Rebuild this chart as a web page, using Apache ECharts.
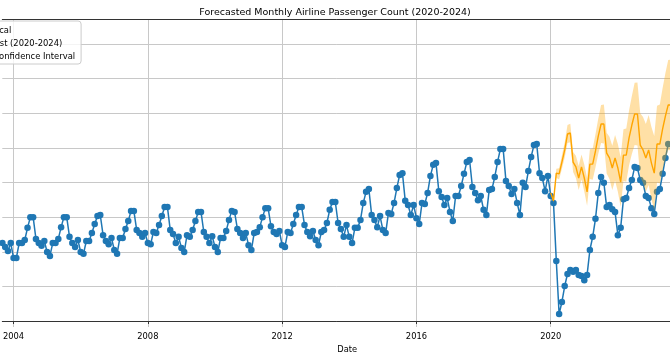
<!DOCTYPE html>
<html><head><meta charset="utf-8">
<script src="https://cdn.jsdelivr.net/npm/echarts@6/dist/echarts.min.js"></script>
<style>html,body{margin:0;padding:0;background:#fff}#c{width:670px;height:360px}</style>
</head><body><div id="c"></div>
<script>
// ---- data ----
const histStart = [2003, 9];            // first historical month (year, month)
const historical = [
  22.5, 21.4, 20.2, 22.5,
  18.2, 18.2, 22.5, 22.5, 23.4, 26.9, 30.0, 30.0, 23.7, 22.5, 21.7, 23.1,
  19.9, 18.8, 22.5, 22.5, 23.7, 27.1, 30.0, 30.0, 24.3, 22.5, 21.4, 23.4,
  19.9, 19.4, 23.1, 23.1, 25.4, 28.0, 30.3, 30.6, 24.8, 23.1, 22.2, 24.0,
  20.5, 19.4, 24.0, 24.0, 26.6, 28.9, 31.8, 31.8, 26.3, 25.4, 24.3, 25.4,
  22.5, 22.2, 25.7, 25.4, 27.7, 30.3, 32.9, 32.9, 26.3, 25.1, 22.5, 24.3,
  21.1, 19.9, 24.8, 24.3, 26.3, 28.9, 31.5, 31.5, 25.7, 24.3, 22.5, 24.5,
  21.4, 19.9, 24.0, 24.0, 26.0, 29.2, 31.8, 31.5, 26.6, 25.4, 24.0, 25.4,
  21.9, 20.5, 25.4, 25.7, 27.1, 30.0, 32.6, 32.6, 27.4, 25.7, 25.1, 26.0,
  21.9, 21.4, 25.7, 25.4, 28.0, 30.6, 32.9, 32.9, 27.7, 25.7, 24.5, 26.0,
  23.4, 21.9, 25.7, 26.3, 28.3, 32.1, 34.4, 34.4, 28.3, 26.6, 24.3, 27.7,
  24.3, 22.5, 26.9, 26.9, 29.2, 34.1, 37.3, 38.1, 30.6, 29.2, 27.1, 30.3,
  26.3, 25.4, 31.2, 30.9, 34.1, 38.4, 42.2, 42.7, 34.7, 33.5, 30.6, 33.5,
  29.7, 28.0, 34.1, 33.8, 37.0, 41.9, 45.1, 45.6, 37.5, 35.8, 33.5, 35.5,
  31.5, 28.9, 36.1, 36.1, 39.0, 42.5, 45.9, 46.5, 38.7, 37.0, 34.9, 36.1,
  32.1, 30.6, 37.8, 38.1, 41.6, 45.9, 49.7, 49.7, 40.4, 39.0, 36.7, 38.1,
  34.1, 30.6, 39.9, 38.7, 43.3, 47.4, 50.8, 51.1, 42.7, 41.3, 37.5, 41.9,
  36.1, 34.1, 17.3, 2.0, 5.5, 10.1, 13.6, 14.7, 14.2, 14.7, 13.3, 13.0,
  11.8, 13.3, 20.5, 24.3, 29.5, 37.0, 41.6, 39.9, 32.9, 33.5, 32.3, 31.5,
  24.8, 26.9, 35.2, 35.5, 38.4, 40.7, 44.5, 44.2, 40.7, 39.9, 36.1, 35.5,
  32.6, 30.9, 37.3, 38.1, 42.5, 47.1, 51.1, 51.4
];
const forecastStart = [2020, 1];
const forecast = [
  37.0, 34.7, 42.7, 42.5, 45.9, 49.4, 54.0, 54.3, 45.9, 44.5, 41.3, 44.5,
  41.3, 37.3, 45.3, 45.3, 49.1, 53.4, 56.9, 56.9, 48.5, 47.1, 44.2, 47.1,
  44.2, 40.1, 47.9, 47.9, 52.9, 56.6, 59.8, 59.8, 50.8, 49.4, 47.1, 49.4,
  45.6, 42.7, 51.1, 51.1, 55.5, 59.2, 62.4, 62.4
];
const ciLower = [
  36.7, 34.0, 41.4, 40.9, 44.0, 47.2, 51.4, 51.6, 43.0, 41.3, 37.8, 40.9,
  37.4, 33.3, 41.0, 40.8, 44.3, 48.3, 51.4, 51.3, 42.6, 41.0, 37.8, 40.5,
  37.3, 32.9, 40.4, 40.2, 45.0, 48.2, 50.8, 50.7, 41.6, 39.9, 37.3, 39.3,
  35.2, 32.0, 40.0, 39.7, 43.7, 46.8, 49.4, 49.3
];
const ciUpper = [
  37.3, 35.4, 44.0, 44.1, 47.8, 51.6, 56.6, 57.0, 48.8, 47.7, 44.8, 48.1,
  45.2, 41.3, 49.6, 49.8, 53.9, 58.5, 62.4, 62.5, 54.4, 53.2, 50.6, 53.7,
  51.1, 47.3, 55.4, 55.6, 60.8, 65.0, 68.8, 68.9, 60.0, 58.9, 56.9, 59.5,
  56.0, 53.4, 62.2, 62.5, 67.3, 71.6, 75.4, 75.5
];
const xTicks = [2004, 2008, 2012, 2016, 2020];
const yGrid = [0, 10, 20, 30, 40, 50, 60, 70, 80];
const xRange = [2003.665, 2023.553];
const yRange = [-1.73, 87.22];
const names = ['Historical', 'Forecast (2020-2024)', '95% Confidence Interval'];
const titleText = 'Forecasted Monthly Airline Passenger Count (2020-2024)';

// ---- build ----
function monthPos(start, i) { return start[0] + (start[1] - 1 + i) / 12; }
const histData = historical.map((v, i) => [monthPos(histStart, i), v]);
const fcData = forecast.map((v, i) => [monthPos(forecastStart, i), v]);
const bandData = ciUpper.map((v, i) => [monthPos(forecastStart, i), ciLower[i], v]);

const FONT = 'DejaVu Sans';
const BAND = 'rgba(255,165,0,0.35)';
const chart = echarts.init(document.getElementById('c'), null, {renderer: 'canvas'});
chart.setOption({
  animation: false,
  backgroundColor: '#ffffff',
  title: {
    text: titleText, left: 'center', top: 3,
    textStyle: {fontFamily: FONT, fontSize: 9.5, fontWeight: 'normal', color: '#000'}
  },
  legend: {
    data: names, orient: 'vertical', left: -60, top: 21,
    itemWidth: 20, itemHeight: 8, itemGap: 5,
    padding: [6, 6, 3, 6],
    backgroundColor: 'rgba(255,255,255,0.8)', borderColor: '#cccccc', borderWidth: 1, borderRadius: 3,
    textStyle: {fontFamily: FONT, fontSize: 8.4, color: '#000'}
  },
  grid: {left: 0, right: 0, top: 19, bottom: 33, containLabel: false},
  xAxis: [{
    type: 'value', min: xRange[0], max: xRange[1], position: 'bottom',
    axisLine: {show: true, lineStyle: {color: '#333', width: 1}},
    axisTick: {show: true, customValues: xTicks, length: 3, lineStyle: {color: '#333'}},
    axisLabel: {customValues: xTicks, formatter: v => String(v), fontFamily: FONT, fontSize: 8.3, color: '#000', margin: 6},
    splitLine: {show: true, lineStyle: {color: '#c8c8c8', width: 1}},
    name: 'Date', nameLocation: 'middle', nameGap: 19,
    nameTextStyle: {fontFamily: FONT, fontSize: 8.3, color: '#000', padding: [0, 0, 0, 22]}
  }, {
    type: 'value', min: xRange[0], max: xRange[1], position: 'top',
    axisLine: {show: true, lineStyle: {color: '#333', width: 1}},
    axisTick: {show: false}, axisLabel: {show: false}, splitLine: {show: false}
  }],
  yAxis: {
    type: 'value', min: yRange[0], max: yRange[1],
    axisLine: {show: false},
    axisTick: {show: false, customValues: yGrid},
    axisLabel: {show: false, customValues: yGrid},
    splitLine: {show: true, lineStyle: {color: '#c8c8c8', width: 1}}
  },
  series: [{
    name: names[0], type: 'line', data: histData,
    symbol: 'circle', symbolSize: 6.5, showSymbol: true,
    itemStyle: {color: '#1f77b4'}, lineStyle: {color: '#1f77b4', width: 1.5},
    z: 3
  }, {
    name: names[1], type: 'line', data: fcData, showSymbol: false, symbol: 'none',
    itemStyle: {color: '#ffa500'}, lineStyle: {color: '#ffa500', width: 1.4},
    z: 4
  }, {
    name: names[2], type: 'custom', data: bandData, clip: true, silent: true, z: 5,
    encode: {x: 0, y: [1, 2]},
    itemStyle: {color: BAND},
    renderItem: function (params, api) {
      if (params.dataIndex !== 0) return null;
      const top = [], bottom = [];
      for (let i = 0; i < bandData.length; i++) {
        top.push(api.coord([bandData[i][0], bandData[i][2]]));
        bottom.push(api.coord([bandData[i][0], bandData[i][1]]));
      }
      return {
        type: 'polygon',
        shape: {points: top.concat(bottom.reverse())},
        style: {fill: BAND}
      };
    }
  }]
});
</script>
</body></html>
